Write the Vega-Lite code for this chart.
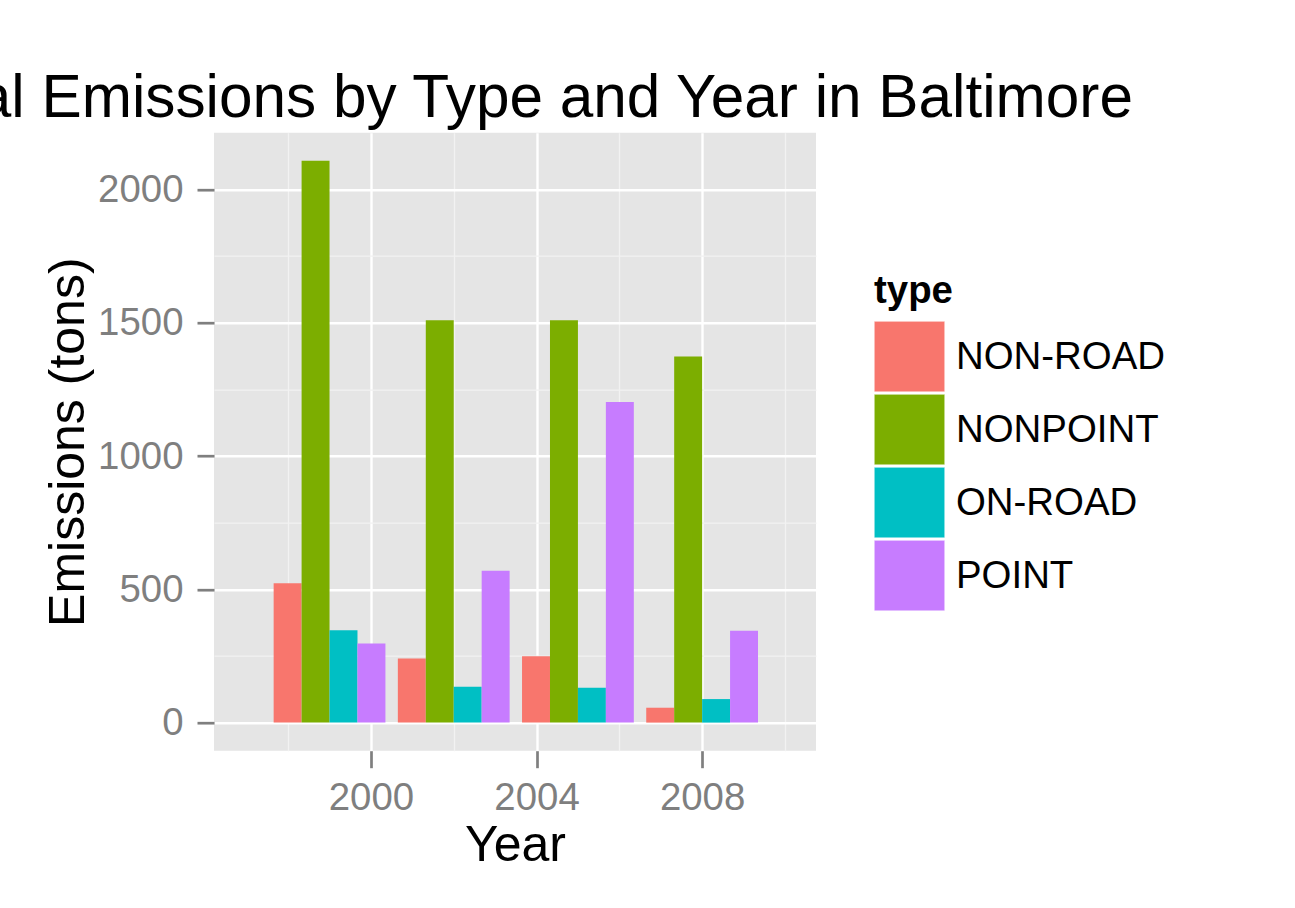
{
  "$schema": "https://vega.github.io/schema/vega-lite/v6.json",
  "width": 602,
  "height": 618,
  "autosize": {"type": "none"},
  "padding": {"left": 214, "top": 132.7, "right": 479, "bottom": 157.3},
  "background": "white",
  "title": {
    "text": "Total Emissions by Type and Year in Baltimore",
    "anchor": "end",
    "frame": "group",
    "dx": 317,
    "dy": 327,
    "fontSize": 60.3,
    "font": "Liberation Sans",
    "fontWeight": "normal",
    "color": "black",
    "baseline": "alphabetic",
    "offset": 0
  },
  "data": {
    "values": [
      {"year": 1999, "type": "NON-ROAD", "Emissions": 522.94},
      {"year": 1999, "type": "NONPOINT", "Emissions": 2107.625},
      {"year": 1999, "type": "ON-ROAD", "Emissions": 346.82},
      {"year": 1999, "type": "POINT", "Emissions": 296.795},
      {"year": 2002, "type": "NON-ROAD", "Emissions": 240.847},
      {"year": 2002, "type": "NONPOINT", "Emissions": 1509.5},
      {"year": 2002, "type": "ON-ROAD", "Emissions": 134.309},
      {"year": 2002, "type": "POINT", "Emissions": 569.26},
      {"year": 2005, "type": "NON-ROAD", "Emissions": 248.93},
      {"year": 2005, "type": "NONPOINT", "Emissions": 1509.5},
      {"year": 2005, "type": "ON-ROAD", "Emissions": 130.43},
      {"year": 2005, "type": "POINT", "Emissions": 1202.49},
      {"year": 2008, "type": "NON-ROAD", "Emissions": 55.82},
      {"year": 2008, "type": "NONPOINT", "Emissions": 1373.207},
      {"year": 2008, "type": "ON-ROAD", "Emissions": 88.275},
      {"year": 2008, "type": "POINT", "Emissions": 344.975}
    ]
  },
  "layer": [
    {
      "mark": {"type": "bar", "opacity": 0},
      "encoding": {
        "x": {
          "field": "year",
          "type": "quantitative",
          "scale": {"domain": [1996.33, 2010.63], "nice": false, "zero": false},
          "axis": {
            "orient": "top",
            "values": [1998, 2002, 2006, 2010],
            "grid": true,
            "gridColor": "#F2F2F2",
            "gridWidth": 1.3,
            "labels": false,
            "ticks": false,
            "domain": false,
            "title": null
          }
        },
        "y": {
          "field": "Emissions",
          "type": "quantitative",
          "scale": {"domain": [-105.4, 2213], "nice": false, "zero": false},
          "axis": {
            "orient": "right",
            "values": [250, 750, 1250, 1750],
            "grid": true,
            "gridColor": "#F2F2F2",
            "gridWidth": 1.3,
            "labels": false,
            "ticks": false,
            "domain": false,
            "title": null
          }
        }
      }
    },
    {
      "transform": [
        {"calculate": "indexof(['NON-ROAD','NONPOINT','ON-ROAD','POINT'], datum.type)", "as": "idx"},
        {"calculate": "datum.year - 1.35 + datum.idx * 0.675", "as": "x0"},
        {"calculate": "datum.x0 + 0.675", "as": "x1"}
      ],
      "mark": {"type": "bar"},
      "encoding": {
        "x": {
          "field": "x0",
          "type": "quantitative",
          "scale": {"domain": [1996.33, 2010.63], "nice": false, "zero": false},
          "axis": {
            "values": [2000, 2004, 2008],
            "format": "d",
            "grid": true,
            "gridColor": "white",
            "gridWidth": 2.4,
            "domain": false,
            "tickColor": "#7F7F7F",
            "tickWidth": 2.7,
            "tickSize": 17,
            "labelFont": "Liberation Sans",
            "labelFontSize": 38.4,
            "labelColor": "#7F7F7F",
            "labelPadding": 12,
            "title": "Year",
            "titleFont": "Liberation Sans",
            "titleFontSize": 50,
            "titleFontWeight": "normal",
            "titleColor": "black",
            "titlePadding": 3
          }
        },
        "x2": {"field": "x1"},
        "y": {
          "field": "Emissions",
          "type": "quantitative",
          "scale": {"domain": [-105.4, 2213], "nice": false, "zero": false},
          "axis": {
            "values": [0, 500, 1000, 1500, 2000],
            "format": "d",
            "grid": true,
            "gridColor": "white",
            "gridWidth": 2.4,
            "domain": false,
            "tickColor": "#7F7F7F",
            "tickWidth": 2.7,
            "tickSize": 17,
            "labelFont": "Liberation Sans",
            "labelFontSize": 38.4,
            "labelColor": "#7F7F7F",
            "labelPadding": 14,
            "title": "Emissions (tons)",
            "titleFont": "Liberation Sans",
            "titleFontSize": 50,
            "titleFontWeight": "normal",
            "titleColor": "black",
            "titlePadding": 4
          }
        },
        "y2": {"datum": 0},
        "color": {
          "field": "type",
          "type": "nominal",
          "scale": {
            "domain": ["NON-ROAD", "NONPOINT", "ON-ROAD", "POINT"],
            "range": ["#F8766D", "#7CAE00", "#00BFC4", "#C77CFF"]
          },
          "legend": {
            "orient": "none",
            "legendX": 660,
            "legendY": 140,
            "title": "type",
            "titleFont": "Liberation Sans",
            "titleFontSize": 38.4,
            "titleFontWeight": "bold",
            "titleColor": "black",
            "titlePadding": 10,
            "padding": 0,
            "rowPadding": 0,
            "symbolType": "square",
            "symbolSize": 4970,
            "symbolStrokeColor": "white",
            "symbolStrokeWidth": 0.5,
            "symbolOpacity": 1,
            "labelFont": "Liberation Sans",
            "labelFontSize": 38.4,
            "labelColor": "black",
            "labelOffset": 11,
            "labelLimit": 400
          }
        }
      }
    }
  ],
  "resolve": {"axis": {"x": "independent", "y": "independent"}},
  "config": {
    "view": {"fill": "#E5E5E5", "stroke": null},
    "font": "Liberation Sans"
  }
}
